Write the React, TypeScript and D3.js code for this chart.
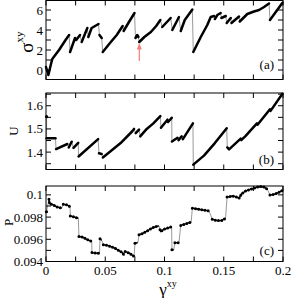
import React from "react";
import * as d3 from "d3";

type Pt = [number, number];

// Panel (a): shear stress sigma^xy vs strain gamma^xy, continuous branches
const sigmaBranches: Pt[][] = [
  [[0, 0.3], [0.002, -0.5], [0.004, 0.5], [0.0053, 1.1], [0.011, 2.0], [0.0165, 3.0], [0.0195, 3.5]],
  [[0.0203, 1.8], [0.0245, 3.2], [0.0255, 3.0], [0.0287, 3.5]],
  [[0.0301, 2.8], [0.0349, 4.2]],
  [[0.0357, 3.3], [0.0385, 4.2], [0.04, 4.3], [0.0443, 4.6]],
  [[0.0451, 3.5], [0.047, 3.2]],
  [[0.0479, 1.8], [0.054, 2.7], [0.0597, 3.5], [0.0647, 4.4]],
  [[0.0655, 3.9], [0.07, 4.8], [0.0747, 5.7]],
  [[0.0755, 3.2], [0.077, 3.5], [0.078, 3.3]],
  [[0.0787, 2.8], [0.083, 3.3], [0.0885, 3.8], [0.093, 4.4], [0.0965, 5.0]],
  [[0.0981, 4.3], [0.1052, 5.2]],
  [[0.1066, 4.0], [0.1122, 5.3]],
  [[0.1137, 3.9], [0.1171, 5.0], [0.1235, 6.05]],
  [[0.1243, 1.8], [0.1306, 3.3], [0.1361, 4.5], [0.139, 5.3], [0.1418, 5.4]],
  [[0.1425, 5.1], [0.1446, 5.5], [0.1474, 5.7]],
  [[0.148, 5.2], [0.1517, 5.4]],
  [[0.1525, 4.7], [0.1559, 5.2]],
  [[0.1565, 4.7], [0.1629, 5.35]],
  [[0.1635, 4.85], [0.1699, 5.6], [0.1755, 5.85], [0.1798, 6.0], [0.184, 6.3], [0.1882, 6.65]],
  [[0.189, 5.0], [0.1994, 6.7]],
];

// Panel (b): energy U
const uBranches: Pt[][] = [
  [[0.0005, 1.553]],
  [[0.0005, 1.46], [0.008, 1.46]],
  [[0.0085, 1.413], [0.018, 1.435]],
  [[0.0192, 1.42], [0.0217, 1.445]],
  [[0.0232, 1.418], [0.0272, 1.44]],
  [[0.0275, 1.381], [0.044, 1.456]],
  [[0.0447, 1.395], [0.047, 1.392]],
  [[0.048, 1.377], [0.063, 1.439], [0.0728, 1.49], [0.0743, 1.5]],
  [[0.0757, 1.482], [0.0785, 1.497]],
  [[0.0795, 1.468], [0.085, 1.5], [0.0906, 1.524], [0.0965, 1.555]],
  [[0.097, 1.505], [0.1025, 1.54]],
  [[0.103, 1.53], [0.1061, 1.548]],
  [[0.1063, 1.446], [0.111, 1.462]],
  [[0.1118, 1.452], [0.1145, 1.468]],
  [[0.1155, 1.456], [0.124, 1.524]],
  [[0.1243, 1.346], [0.1333, 1.385], [0.1425, 1.439], [0.1525, 1.503]],
  [[0.153, 1.42], [0.1545, 1.412], [0.1643, 1.458]],
  [[0.1648, 1.452], [0.1685, 1.47], [0.178, 1.524]],
  [[0.1785, 1.518], [0.189, 1.585]],
  [[0.1895, 1.578], [0.1995, 1.652]],
];

// Panel (c): pressure P
const pBranches: Pt[][] = [
  [[0.0004, 0.09848]],
  [[0.0025, 0.0996], [0.003, 0.0992], [0.006, 0.0991], [0.0095, 0.0989], [0.0132, 0.0988]],
  [[0.0146, 0.09915], [0.0175, 0.0991], [0.0195, 0.099], [0.0203, 0.0989]],
  [[0.0205, 0.0981], [0.024, 0.098], [0.0273, 0.0979]],
  [[0.0278, 0.09625], [0.031, 0.0962], [0.0343, 0.096], [0.0386, 0.0958]],
  [[0.0388, 0.0948], [0.042, 0.09475], [0.0452, 0.09475]],
  [[0.0456, 0.09605], [0.047, 0.0959]],
  [[0.0484, 0.0955], [0.052, 0.09545], [0.0582, 0.0952], [0.0645, 0.0948], [0.066, 0.09455]],
  [[0.0668, 0.0949], [0.0705, 0.09475], [0.0743, 0.09445]],
  [[0.0751, 0.09565], [0.0775, 0.0957]],
  [[0.0785, 0.0964], [0.082, 0.09655], [0.0878, 0.0969], [0.0911, 0.0971], [0.0954, 0.0972]],
  [[0.0962, 0.09685], [0.0968, 0.0967], [0.0996, 0.0969], [0.1052, 0.0971], [0.106, 0.09715]],
  [[0.1063, 0.09505], [0.1078, 0.09505]],
  [[0.1088, 0.0957], [0.1122, 0.0957]],
  [[0.1137, 0.09725], [0.118, 0.0974], [0.1225, 0.09755]],
  [[0.1235, 0.0988], [0.127, 0.09875], [0.1319, 0.09865], [0.1376, 0.09855]],
  [[0.1403, 0.0978], [0.1445, 0.09768], [0.1485, 0.0977], [0.1515, 0.0979]],
  [[0.1528, 0.0998], [0.1572, 0.0999], [0.16, 0.09985], [0.1629, 0.0997], [0.165, 0.1001], [0.1685, 0.10035],
   [0.172, 0.1005], [0.1755, 0.1006], [0.179, 0.10072], [0.1812, 0.10075], [0.184, 0.1007], [0.1868, 0.1005]],
  [[0.189, 0.1], [0.1924, 0.10005], [0.196, 0.1002], [0.1994, 0.1004]],
];

const xTicks = [0, 0.025, 0.05, 0.075, 0.1, 0.125, 0.15, 0.175, 0.2];
const xTickLabels = ["0", "0.05", "0.1", "0.15", "0.2"];
const xLabelValues = [0, 0.05, 0.1, 0.15, 0.2];

const sigmaTicks = [0, 1, 2, 3, 4, 5, 6];
const sigmaLabels = [0, 2, 4, 6];
const uTicks = [1.35, 1.4, 1.45, 1.5, 1.55, 1.6, 1.65];
const uLabels = [1.4, 1.5, 1.6];
const pTicks = [0.094, 0.095, 0.096, 0.097, 0.098, 0.099, 0.1];
const pLabels = [0.094, 0.096, 0.098, 0.1];

const FONT = "'Liberation Serif', 'DejaVu Serif', serif";
const LEFT = 46;
const RIGHT = 283;
const x = d3.scaleLinear().domain([0, 0.2]).range([LEFT, RIGHT]);

interface PanelProps {
  branches: Pt[][];
  domain: [number, number];
  top: number;
  bottom: number;
  ticks: number[];
  labels: number[];
  fmt: (v: number) => string;
  tag: string;
  tagY: number;
  dotted?: boolean;
}

function Panel({ branches, domain, top, bottom, ticks, labels, fmt, tag, tagY, dotted }: PanelProps) {
  const y = d3.scaleLinear().domain(domain).range([bottom, top]);
  const line = d3.line<Pt>().x((d) => x(d[0])).y((d) => y(d[1]));
  const all = branches.flat();
  const TL = 5;
  return (
    <g>
      <path d={line(all) || ""} fill="none" stroke="#9a9a9a" strokeWidth={1} />
      {branches.map((b, i) =>
        b.length === 1 ? (
          <circle key={i} cx={x(b[0][0])} cy={y(b[0][1])} r={1.6} fill="#000" />
        ) : dotted ? (
          <g key={i}>
            <path d={line(b) || ""} fill="none" stroke="#000" strokeWidth={1.3} />
            <path d={line(b) || ""} fill="none" stroke="#000" strokeWidth={3} strokeLinecap="round" strokeDasharray="0 3.2" />
          </g>
        ) : (
          <path key={i} d={line(b) || ""} fill="none" stroke="#000" strokeWidth={2.5} strokeLinecap="round" strokeLinejoin="round" />
        )
      )}
      <rect x={LEFT} y={top} width={RIGHT - LEFT} height={bottom - top} fill="none" stroke="#000" strokeWidth={1} />
      {xTicks.map((t) => (
        <g key={"x" + t}>
          <line x1={x(t)} x2={x(t)} y1={bottom} y2={bottom - TL} stroke="#000" />
          <line x1={x(t)} x2={x(t)} y1={top} y2={top + TL} stroke="#000" />
        </g>
      ))}
      {ticks.map((t) => (
        <g key={"y" + t}>
          <line x1={LEFT} x2={LEFT + TL} y1={y(t)} y2={y(t)} stroke="#000" />
          <line x1={RIGHT} x2={RIGHT - TL} y1={y(t)} y2={y(t)} stroke="#000" />
        </g>
      ))}
      {labels.map((t) => (
        <text key={"l" + t} x={43} y={y(t)} dy="0.35em" textAnchor="end" fontSize={13} fontFamily={FONT} fill="#000">
          {fmt(t)}
        </text>
      ))}
      <text x={274} y={tagY} textAnchor="end" fontSize={13} fontFamily={FONT} fill="#000">
        {tag}
      </text>
    </g>
  );
}

export default function App() {
  return (
    <svg width={291} height={298} style={{ position: "absolute", left: 0, top: 0 }}>
      <rect width={291} height={298} fill="#fff" />
      <Panel branches={sigmaBranches} domain={[-0.95, 6.95]} top={0.5} bottom={79.5} ticks={sigmaTicks}
        labels={sigmaLabels} fmt={(v) => String(v)} tag="(a)" tagY={69} />
      <Panel branches={uBranches} domain={[1.325, 1.655]} top={93} bottom={169.5} ticks={uTicks}
        labels={uLabels} fmt={(v) => v.toFixed(1)} tag="(b)" tagY={164} />
      <Panel branches={pBranches} domain={[0.094, 0.1008]} top={186} bottom={261.5} ticks={pTicks}
        labels={pLabels} fmt={(v) => (v === 0.1 ? "0.1" : v.toFixed(3))} tag="(c)" tagY={255} dotted />
      {xLabelValues.map((v, i) => (
        <text key={v} x={x(v)} y={275} textAnchor="middle" fontSize={13} fontFamily={FONT} fill="#000">
          {xTickLabels[i]}
        </text>
      ))}
      <text x={168} y={294.5} textAnchor="middle" fontFamily={FONT} fill="#000">
        <tspan fontSize={17}>γ</tspan>
        <tspan fontSize={10} dy={-7.5}>xy</tspan>
      </text>
      <text transform="translate(33,42) rotate(-90)" textAnchor="middle" fontFamily={FONT} fill="#000">
        <tspan fontSize={19}>σ</tspan>
        <tspan fontSize={11} dy={-10}>xy</tspan>
      </text>
      <text transform="translate(18,131) rotate(-90)" textAnchor="middle" fontFamily={FONT} fontSize={13} fill="#000">
        U
      </text>
      <text transform="translate(13,222.5) rotate(-90)" textAnchor="middle" fontFamily={FONT} fontSize={13} fill="#000">
        P
      </text>
      <line x1={139.3} x2={139.3} y1={61} y2={48} stroke="#f47c7c" strokeWidth={1.2} />
      <path d="M139.3,43 L136.8,49.5 L141.8,49.5 Z" fill="#f47c7c" />
    </svg>
  );
}
